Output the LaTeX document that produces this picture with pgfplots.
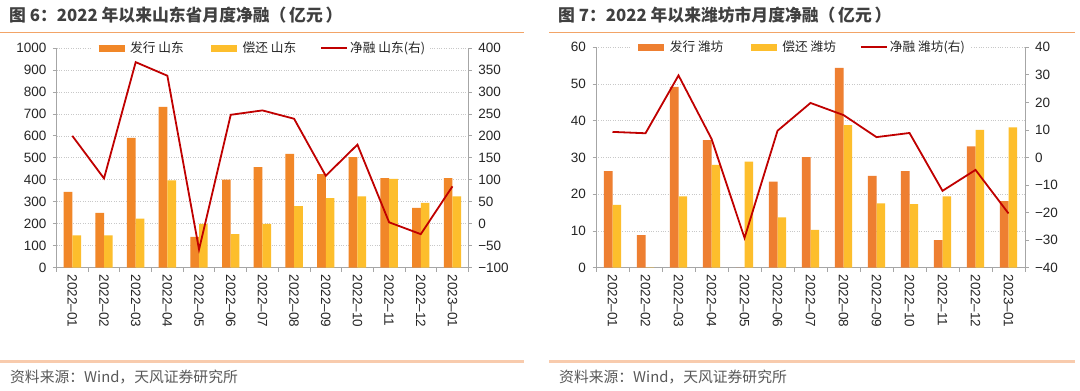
\documentclass[border=0pt]{standalone}
\usepackage{pgfplots}
\usepackage{pgfplotstable}
\pgfplotsset{compat=1.18}
\usepackage{fontspec}
\setmainfont{Liberation Sans}
\newfontfamily\cjk{Noto Sans CJK SC}
\definecolor{issL}{HTML}{F18728}
\definecolor{issR}{HTML}{EE7F31}
\definecolor{repay}{HTML}{FDBE2C}
\definecolor{netc}{HTML}{C00000}
\definecolor{axgray}{HTML}{A6A6A6}
\definecolor{gridc}{HTML}{C8C8C8}
\definecolor{tickc}{HTML}{262626}
\definecolor{titlec}{HTML}{404040}
\definecolor{srcc}{HTML}{595959}
\definecolor{topline}{HTML}{F2A467}
\definecolor{botline}{HTML}{F8CBAD}
\newcommand\ticksz{\fontsize{13.5bp}{15bp}\selectfont}
\newcommand\legsz{\cjk\fontsize{12.7bp}{15bp}\selectfont}

\pgfplotstableread{
x iss rep net
0 345 146 200
1 249 146 103
2 591 223 368
3 732 397 337
4 140 199 -59
5 400 152 248
6 457 199 258
7 518 280 239
8 426 316 109
9 503 324 180
10 407 404 3
11 272 295 -24
12 407 324 85
}\sdtable

\pgfplotstableread{
x iss rep net
0 26.3 17.1 9.3
1 8.9 0.1 8.8
2 49.2 19.4 29.8
3 34.7 28.0 6.8
4 0 28.9 -29.2
5 23.4 13.7 9.7
6 30.1 10.3 19.8
7 54.4 38.8 15.4
8 25.0 17.5 7.4
9 26.3 17.3 8.9
10 7.5 19.4 -12.1
11 33.0 37.5 -4.5
12 18.1 38.2 -20.3
}\wftable

\pgfplotsset{
  base/.style={
    scale only axis, anchor=south west,
    xmin=-0.5, xmax=12.5,
    axis line style={draw=axgray, line width=0.8bp},
    tick style={draw=axgray, line width=0.8bp},
    tick align=outside,
    major tick length=3.5bp, minor tick length=4bp,
    ticklabel style={font=\ticksz, text=tickc},
    /pgf/number format/assume math mode=true,
    /pgf/number format/1000 sep={},
    clip=false,
  },
  lefty/.style={
    base,
    axis y line*=left, axis x line*=bottom,
    ymajorgrids, grid style={dotted, gridc, line width=0.7bp},
    xtick={0,...,12},
    xticklabels={2022--01,2022--02,2022--03,2022--04,2022--05,2022--06,2022--07,2022--08,2022--09,2022--10,2022--11,2022--12,2023--01},
    minor xtick={-0.5,0.5,...,12.5},
    major x tick style={draw=none},
    xticklabel style={rotate=-90, anchor=west},
    yticklabel style={xshift=-3bp},
    legend columns=3,
    legend style={font=\legsz, text=tickc, draw=none, fill=white,
      inner ysep=3bp, anchor=west,
      nodes={inner sep=2bp},
      /tikz/every even column/.append style={column sep=22bp}},
  },
  righty/.style={
    base,
    axis y line*=right, axis x line=none,
    yticklabel style={xshift=3bp},
  },
  legimg/.style={legend image code/.code={\draw[##1] (0bp,0bp) -- (26bp,0bp);}},
}

\begin{document}
\begin{tikzpicture}[x=1bp,y=1bp]
\useasboundingbox (0,0) rectangle (1080,390);
\fill[white] (0,0) rectangle (1080,390);

% titles and separators
\node[anchor=west, inner sep=0pt, text=titlec, font=\cjk\bfseries\fontsize{16.8bp}{18bp}\selectfont] at (9,374.5) {图 6：2022 年以来山东省月度净融（\,亿元\,）};
\node[anchor=west, inner sep=0pt, text=titlec, font=\cjk\bfseries\fontsize{16.8bp}{18bp}\selectfont] at (558,374.5) {图 7：2022 年以来潍坊市月度净融（\,亿元\,）};
\draw[topline, line width=1.2bp] (0,357.5) -- (524,357.5);
\draw[topline, line width=1.2bp] (549,357.5) -- (1075,357.5);
\draw[botline, line width=2.2bp] (0,28.5) -- (524,28.5);
\draw[botline, line width=2.2bp] (549,28.5) -- (1075,28.5);
\node[anchor=west, inner sep=0pt, text=srcc, font=\cjk\fontsize{14.8bp}{16bp}\selectfont] at (10,13) {资料来源：Wind，天风证券研究所};
\node[anchor=west, inner sep=0pt, text=srcc, font=\cjk\fontsize{14.8bp}{16bp}\selectfont] at (559,13) {资料来源：Wind，天风证券研究所};

% ---- left chart
\begin{axis}[lefty, at={(56.5bp,122.5bp)}, width=411.8bp, height=219.4bp,
  ymin=0, ymax=1000, ytick={0,100,...,1000},
  legend style={at={(0.086,1)}}]
\addplot[ybar, bar width=8.7bp, bar shift=-4.35bp, fill=issL, draw=none, forget plot] table[x=x,y=iss]{\sdtable};
\addplot[ybar, bar width=8.7bp, bar shift=4.35bp, fill=repay, draw=none, forget plot] table[x=x,y=rep]{\sdtable};
\addlegendimage{legimg, issL, line width=7bp}\addlegendentry{发行 山东}
\addlegendimage{legimg, repay, line width=7bp}\addlegendentry{偿还 山东}
\addlegendimage{legimg, netc, line width=1.8bp}\addlegendentry{净融 山东(右)}
\end{axis}
\begin{axis}[righty, at={(56.5bp,122.5bp)}, width=411.8bp, height=219.4bp,
  ymin=-100, ymax=400, ytick={-100,-50,...,400},
  yticklabels={−100,−50,0,50,100,150,200,250,300,350,400}]
\addplot[netc, line width=1.8bp, mark=none] table[x=x,y=net]{\sdtable};
\end{axis}

% ---- right chart
\begin{axis}[lefty, at={(596bp,122.3bp)}, width=429bp, height=220.4bp,
  ymin=0, ymax=60, ytick={0,10,...,60},
  legend style={at={(0.083,1)}}]
\addplot[ybar, bar width=8.7bp, bar shift=-4.35bp, fill=issR, draw=none, forget plot] table[x=x,y=iss]{\wftable};
\addplot[ybar, bar width=8.7bp, bar shift=4.35bp, fill=repay, draw=none, forget plot] table[x=x,y=rep]{\wftable};
\addlegendimage{legimg, issR, line width=7bp}\addlegendentry{发行 潍坊}
\addlegendimage{legimg, repay, line width=7bp}\addlegendentry{偿还 潍坊}
\addlegendimage{legimg, netc, line width=1.8bp}\addlegendentry{净融 潍坊(右)}
\end{axis}
\begin{axis}[righty, at={(596bp,122.3bp)}, width=429bp, height=220.4bp,
  ymin=-40, ymax=40, ytick={-40,-30,...,40},
  yticklabels={−40,−30,−20,−10,0,10,20,30,40}]
\addplot[netc, line width=1.8bp, mark=none] table[x=x,y=net]{\wftable};
\end{axis}
\end{tikzpicture}
\end{document}
